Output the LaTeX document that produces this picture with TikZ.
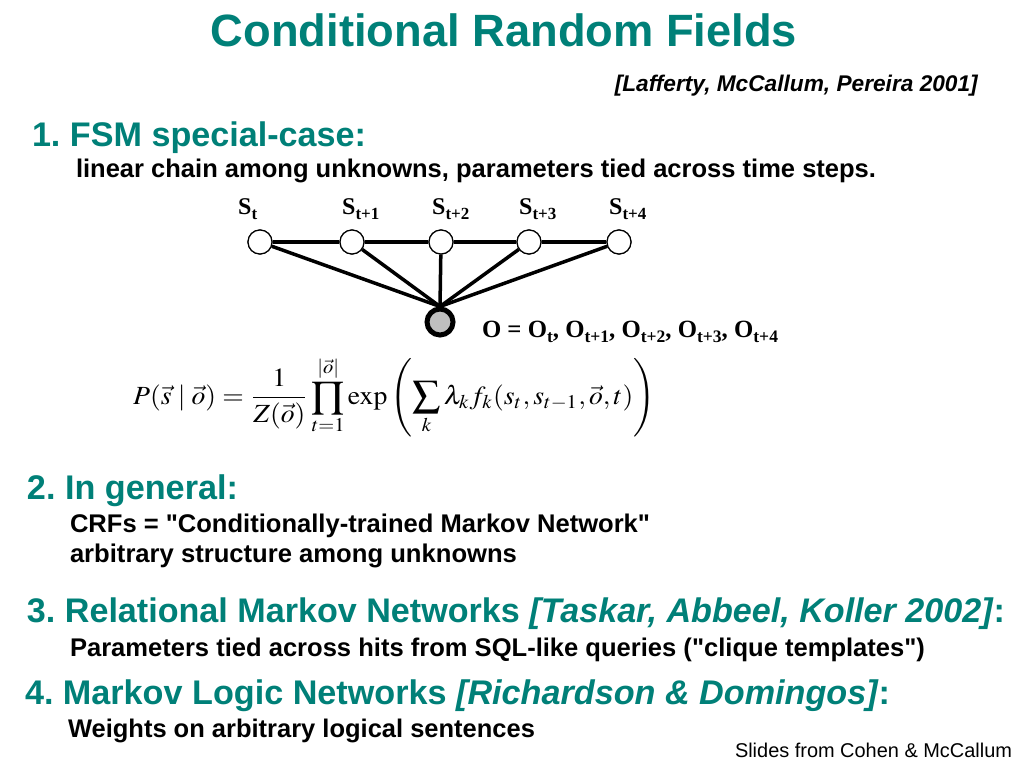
\documentclass[tikz,border=0pt]{standalone}
\usepackage{mathptmx}
\usepackage[no-math]{fontspec}
\setmainfont{Liberation Sans}[Ligatures=TeXOff]
\newfontfamily\tms{Liberation Serif}
\usepackage{graphicx}
\frenchspacing
\definecolor{tealc}{RGB}{0,128,120}
\newcommand\fitw[2]{\resizebox{#1pt}{!}{#2}}
\tikzset{
  txt/.style={anchor=base west, inner sep=0pt, outer sep=0pt},
  snode/.style={circle, draw=black, line width=1.2pt, fill=white, minimum size=24pt, inner sep=0pt},
  onode/.style={circle, draw=black, line width=5pt, fill=black!25, minimum size=26pt, inner sep=0pt},
  edge/.style={line width=3.5pt, black},
  slab/.style={anchor=base west, inner sep=0pt, font=\tms\bfseries\fontsize{24}{26}\selectfont}
}
\newcommand\ssub[1]{\raisebox{-5pt}{\fontsize{17}{18}\selectfont #1}}
\begin{document}
\begin{tikzpicture}[x=1pt,y=-1pt]
\useasboundingbox (0,0) rectangle (1024,768);
\fill[white] (0,0) rectangle (1024,768);

% title and reference
\node[inner sep=0pt, anchor=base] (title) at (504,47) {\fitw{586}{\color{tealc}\bfseries\fontsize{44}{50}\selectfont Conditional Random Fields}};
\node[inner sep=0pt, anchor=base east] (ref) at (978,91) {\fitw{363}{\bfseries\itshape\fontsize{22}{24}\selectfont [Lafferty, McCallum, Pereira 2001]}};

% section 1
\node[txt] (h1) at (32,146) {\fitw{334}{\color{tealc}\bfseries\fontsize{30}{34}\selectfont 1. FSM special-case:}};
\node[txt] (l1) at (76,177) {\fitw{800}{\bfseries\fontsize{22}{24}\selectfont linear chain among unknowns, parameters tied across time steps.}};

% graph
\node[snode] (s0) at (260,242) {};
\node[snode] (s1) at (352,242) {};
\node[snode] (s2) at (441,242) {};
\node[snode] (s3) at (529,242) {};
\node[snode] (s4) at (619,242) {};
\node[onode] (o) at (440,322) {};
\draw[edge] (s0) -- (s1);
\draw[edge] (s1) -- (s2);
\draw[edge] (s2) -- (s3);
\draw[edge] (s3) -- (s4);
\foreach \s in {s0,s1,s2,s3,s4} \draw[edge] (\s) -- (o.north);
\node[snode] at (s0) {};
\node[snode] at (s1) {};
\node[snode] at (s2) {};
\node[snode] at (s3) {};
\node[snode] at (s4) {};

\node[slab] (l0) at (238,214) {S\ssub{t}};
\node[slab] (ll1) at (342,214) {S\ssub{t+1}};
\node[slab] (ll2) at (432,214) {S\ssub{t+2}};
\node[slab] (ll3) at (519,214) {S\ssub{t+3}};
\node[slab] (ll4) at (609,214) {S\ssub{t+4}};
\node[txt] (olab) at (482,337) {\fitw{296}{\tms\bfseries\fontsize{24}{26}\selectfont O = O\ssub{t}, O\ssub{t+1}, O\ssub{t+2}, O\ssub{t+3}, O\ssub{t+4}}};

% formula
\node[anchor=west, inner sep=0pt] (formula) at (133,397) {\resizebox*{522pt}{80pt}{$\displaystyle P(\vec{s}\mid\vec{o})=\frac{1}{Z(\vec{o})}\prod_{t=1}^{|\vec{o}|}\exp\left(\sum_{k}\lambda_k f_k(s_t,s_{t-1},\vec{o},t)\right)$}};

% section 2
\node[txt] (h2) at (27,499) {\fitw{211}{\color{tealc}\bfseries\fontsize{30}{34}\selectfont 2. In general:}};
\node[txt] (l2a) at (70,532) {\fitw{580}{\bfseries\fontsize{22}{24}\selectfont CRFs = "Conditionally-trained Markov Network"}};
\node[txt] (l2b) at (70,562) {\fitw{447}{\bfseries\fontsize{22}{24}\selectfont arbitrary structure among unknowns}};

% section 3
\node[txt] (h3) at (27,622) {\fitw{978}{\color{tealc}\bfseries\fontsize{30}{34}\selectfont 3. Relational Markov Networks \textit{[Taskar, Abbeel, Koller 2002]}:}};
\node[txt] (l3) at (70,656) {\fitw{855}{\bfseries\fontsize{22}{24}\selectfont Parameters tied across hits from SQL-like queries ("clique templates")}};

% section 4
\node[txt] (h4) at (25,704) {\fitw{865}{\color{tealc}\bfseries\fontsize{30}{34}\selectfont 4. Markov Logic Networks \textit{[Richardson \& Domingos]}:}};
\node[txt] (l4) at (68,737) {\fitw{467}{\bfseries\fontsize{22}{24}\selectfont Weights on arbitrary logical sentences}};

\node[txt] (foot) at (735,757) {\fitw{277}{\fontsize{18}{20}\selectfont Slides from Cohen \& McCallum}};
\end{tikzpicture}
\end{document}
